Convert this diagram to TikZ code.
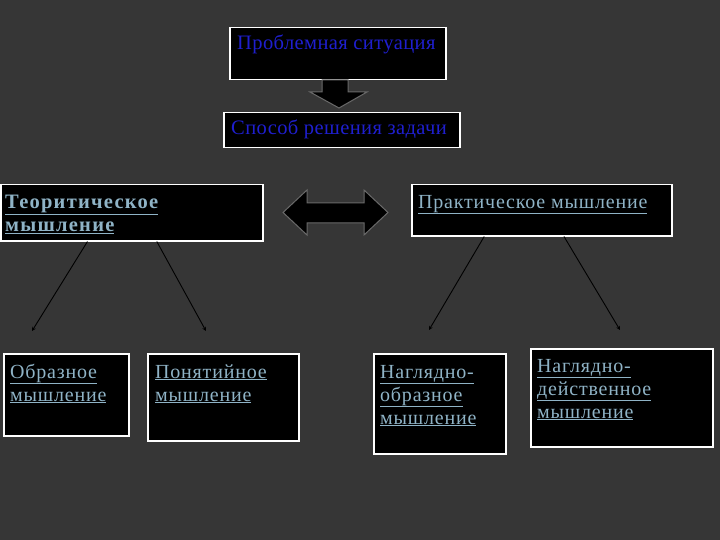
\documentclass[tikz,border=0pt]{standalone}
\usepackage{fontspec}
\setmainfont{Liberation Serif}
\usetikzlibrary{calc,arrows.meta}
\definecolor{bgc}{HTML}{363636}
\definecolor{lblc}{HTML}{8FB3C6}
\definecolor{topc}{HTML}{1F1FCF}
\definecolor{arrb}{HTML}{6A6A6A}
\tikzset{
  box/.style={draw=white, line width=1.5pt, fill=black, anchor=north west, inner sep=0pt},
  lbl/.style={anchor=base west, inner sep=0pt, text=lblc, font=\fontsize{20}{23}\selectfont\addfontfeature{LetterSpace=4}},
  lblb/.style={lbl, font=\fontsize{20.5}{24}\bfseries\selectfont\addfontfeature{LetterSpace=6}},
  toplbl/.style={anchor=base west, inner sep=0pt, text=topc, font=\fontsize{20.5}{24}\selectfont\addfontfeature{LetterSpace=2}},
  blockarr/.style={fill=black, draw=arrb, line width=1pt},
  conn/.style={draw=black, line width=0.9pt, -{Stealth[length=4pt,width=4pt]}}
}
\newcommand{\ul}[1]{\underline{#1}}
\begin{document}
\begin{tikzpicture}[x=1pt,y=-1pt]
\fill[bgc] (0,0) rectangle (720,540);
\useasboundingbox (0,0) rectangle (720,540);
% boxes
\node[box, minimum width=216, minimum height=52] (prob) at (229,27) {};
\node[box, minimum width=236, minimum height=35] (spos) at (223,112) {};
\node[box, minimum width=262, minimum height=56] (theo) at (0,184) {};
\node[box, minimum width=260, minimum height=51] (prac) at (411,184) {};
\node[box, minimum width=125, minimum height=82] (obr) at (3,353) {};
\node[box, minimum width=151, minimum height=87] (pon) at (147,353) {};
\node[box, minimum width=132, minimum height=100] (nob) at (373,353) {};
\node[box, minimum width=182, minimum height=98] (nde) at (530,348) {};
% labels
\node[toplbl] (tprob) at (237,50) {Проблемная ситуация};
\node[toplbl] (tspos) at (231,135) {Способ решения задачи};
\node[lblb] (ttheo1) at (5,208) {\ul{Теоритическое}};
\node[lblb] (ttheo2) at (5,232) {\ul{мышление}};
\node[lbl] (tprac) at (418,208) {\ul{Практическое мышление}};
\node[lbl] (tobr1) at (10,378) {\ul{Образное}};
\node[lbl] (tobr2) at (10,401) {\ul{мышление}};
\node[lbl] (tpon1) at (155,378) {\ul{Понятийное}};
\node[lbl] (tpon2) at (155,401) {\ul{мышление}};
\node[lbl] (tnob1) at (380,378) {\ul{Наглядно-}};
\node[lbl] (tnob2) at (380,401) {\ul{образное}};
\node[lbl] (tnob3) at (380,424) {\ul{мышление}};
\node[lbl] (tnde1) at (537,372) {\ul{Наглядно-}};
\node[lbl] (tnde2) at (537,395) {\ul{действенное}};
\node[lbl] (tnde3) at (537,418) {\ul{мышление}};
% block arrow down
\path[blockarr] (322,80) -- (348,80) -- (348,92) -- (367,92) -- (339,108) -- (310,92) -- (322,92) -- cycle;
% double arrow
\path[blockarr] (283,212.5) -- (307,190) -- (307,203) -- (364,203) -- (364,190) -- (388,212.5) -- (364,235) -- (364,223) -- (307,223) -- (307,235) -- cycle;
% connectors
\coordinate (e1) at (32,331);
\coordinate (e2) at (206,331);
\coordinate (e3) at (429,330);
\coordinate (e4) at (620,330);
\draw[conn] ($(theo.south west)!0.332!(theo.south east)$) -- (e1);
\draw[conn] ($(theo.south west)!0.595!(theo.south east)$) -- (e2);
\draw[conn] ($(prac.south west)!0.28!(prac.south east)$) -- (e3);
\draw[conn] ($(prac.south west)!0.585!(prac.south east)$) -- (e4);
\end{tikzpicture}
\end{document}
